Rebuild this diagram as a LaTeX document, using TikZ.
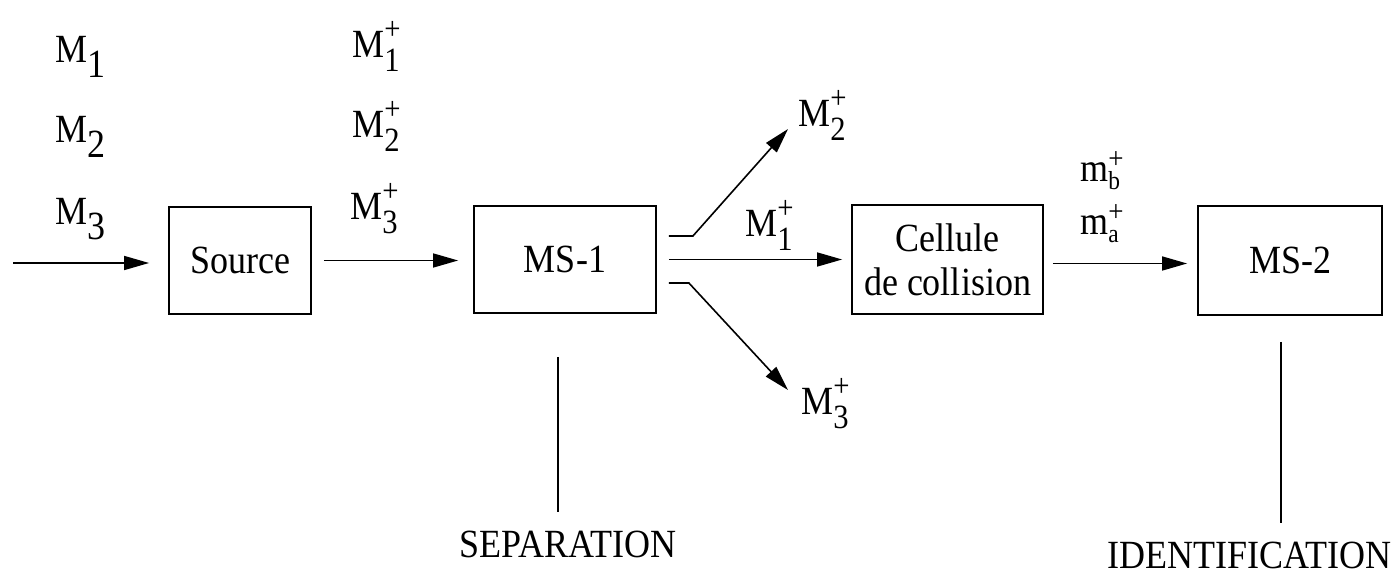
\documentclass[tikz,border=0pt]{standalone}
\usepackage{fontspec}
\setmainfont{Liberation Serif}[FakeStretch=0.9]
\usetikzlibrary{arrows.meta}
% #1 sub, #2 sup, #3 lowering, #4 raising, #5 sub size, #6 sup size
\newcommand{\subsupx}[6]{\ooalign{\raisebox{-#3}{\fontsize{#5}{#5}\selectfont #1}\cr\raisebox{#4}{\fontsize{#6}{#6}\selectfont #2}\cr}}
\newcommand{\ionM}[1]{M\subsupx{#1}{+}{7pt}{9pt}{17}{16}}
\newcommand{\ionm}[1]{m\subsupx{#1}{+}{4pt}{6.5pt}{13}{15}}
\begin{document}
\begin{tikzpicture}[x=0.5pt,y=-0.5pt,
  box/.style={draw,line width=0.9pt,inner sep=0pt,minimum height=53.5pt,
    align=center,font=\fontsize{20}{22}\selectfont},
  arr/.style={line width=0.8pt,-{Triangle[length=12.5pt,width=7pt]}},
  plainline/.style={line width=0.8pt},
  lbl/.style={anchor=base west,inner sep=0pt,font=\fontsize{20}{22}\selectfont},
  ion/.style={anchor=base west,inner sep=0pt,font=\fontsize{20}{20}\selectfont},
  caption/.style={inner sep=0pt,font=\fontsize{20}{22}\selectfont}]
\useasboundingbox (0,0) rectangle (1393,577);

% boxes
\node[box,minimum width=71pt] (src) at (240,260.5) {Source};
\node[box,minimum width=91pt] (ms1) at (565,259.5) {MS-1};
\node[box,minimum width=95.5pt,minimum height=54.5pt] (cell) at (947.5,259.5) {Cellule\\de collision};
\node[box,minimum width=92pt,minimum height=54.5pt] (ms2) at (1290,260.5) {MS-2};

% left labels
\node[lbl] (ma) at (55,63) {M\raisebox{-7.5pt}{1}};
\node[lbl] (mbb) at (55,143) {M\raisebox{-7.5pt}{2}};
\node[lbl] (mc) at (55,225) {M\raisebox{-7.5pt}{3}};

\node[ion] (pa) at (352,58) {\ionM{1}};
\node[ion] (pb) at (352,138) {\ionM{2}};
\node[ion] (pc) at (350,220) {\ionM{3}};

% branch labels
\node[ion] (bup) at (798,127) {\ionM{2}};
\node[ion] (bmid) at (745,237) {\ionM{1}};
\node[ion] (blow) at (801,415) {\ionM{3}};

% fragment labels
\node[ion] (fb) at (1080,182) {\ionm{b}};
\node[ion] (fa) at (1080,235) {\ionm{a}};

% arrows
\coordinate (in) at (13,263);
\draw[arr] (in) -- ([xshift=-9.5pt]src.west |- in);
\draw[arr] ([xshift=6pt]src.east) -- ([xshift=-7.5pt]ms1.west |- src.east);

\draw[arr] ([xshift=6pt,yshift=11.75pt]ms1.east) -- ++(24,0) -- ([shift={(-5pt,-1pt)}]bup.base west);
\draw[arr] ([xshift=6pt]ms1.east) -- ([xshift=-4.5pt]cell.west);
\draw[arr] ([xshift=6pt,yshift=-11.75pt]ms1.east) -- ++(20,0) -- ([shift={(-6.5pt,12.5pt)}]blow.base west);

\coordinate (c1) at ([xshift=4.5pt,yshift=-2pt]cell.east);
\draw[arr] (c1) -- ([xshift=-5pt]ms2.west |- c1);

% stages
\node[caption,anchor=base] (sep) at (568,557) {SEPARATION};
\node[caption,anchor=base east] (ident) at (1392,568) {IDENTIFICATION};
\coordinate (sa) at (558,357);
\coordinate (sb) at (558,512);
\draw[plainline] (sa) -- (sb);
\coordinate (ia) at (1281,342);
\coordinate (ib) at (1281,523);
\draw[plainline] (ia) -- (ib);
\end{tikzpicture}
\end{document}
